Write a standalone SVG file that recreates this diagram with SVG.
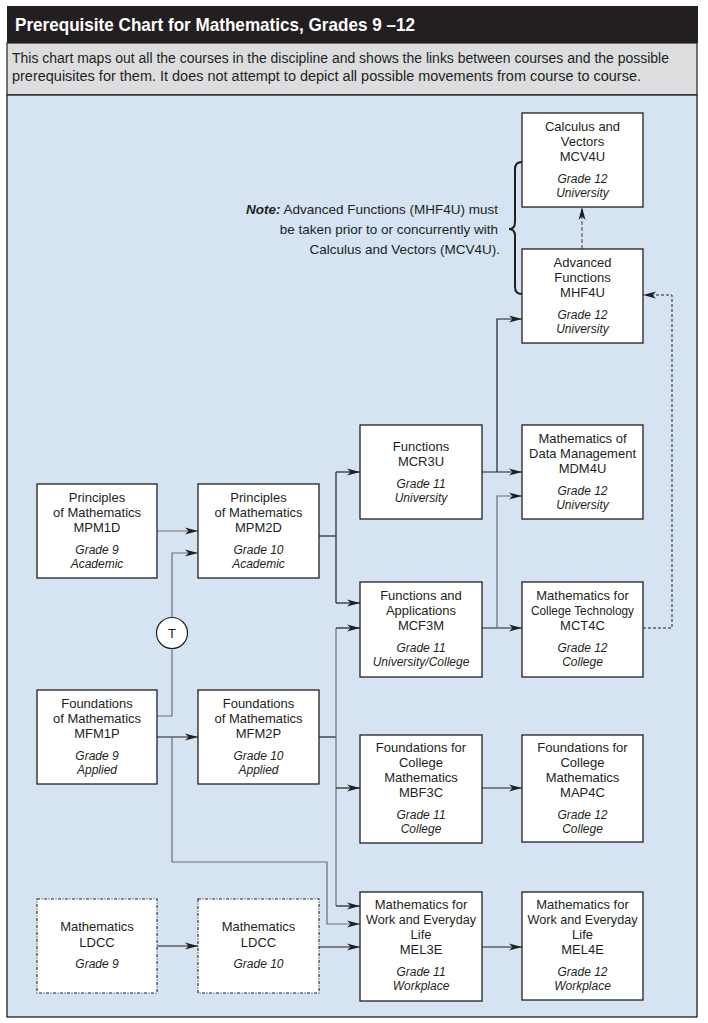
<svg xmlns="http://www.w3.org/2000/svg" width="708" height="1023" viewBox="0 0 708 1023">
<style>
text{font-family:"Liberation Sans",Arial,sans-serif;fill:#231F20}
.b{fill:#fff;stroke:#231F20;stroke-width:1.3}
.d{fill:#fff;stroke:#231F20;stroke-width:1.1;stroke-dasharray:3 1.5 1 1.5}
.n text{font-size:13px;text-anchor:middle}
.n text.i{font-size:12px;font-style:italic}
.c path{fill:none;stroke:#231F20;stroke-width:1.2}
.c path.g{stroke:#6D6E71}
.c path.ds{stroke-dasharray:3 2;stroke-width:1}
.c path.dg{stroke:#6D6E71;stroke-dasharray:4 2;stroke-width:1.4}
</style>
<defs>
<marker id="ah" viewBox="0 0 13 8" refX="13" refY="4" markerWidth="13" markerHeight="8" orient="auto" markerUnits="userSpaceOnUse"><path d="M0,0.5 L13,4 L0,7.5 L3.5,4 z" fill="#231F20"/></marker>
</defs>
<rect width="708" height="1023" fill="#fff"/>
<g id="header">
<rect x="7" y="6" width="691" height="37" fill="#231F20"/>
<rect x="7" y="43" width="690" height="52" fill="#DCDDDE" stroke="#231F20" stroke-width="1.2"/>
<rect x="7" y="95" width="690" height="922" fill="#D5E3F3" stroke="#231F20" stroke-width="1.3"/>
<text x="15" y="31" font-size="18.5" font-weight="bold" style="fill:#fff" textLength="400" lengthAdjust="spacingAndGlyphs">Prerequisite Chart for Mathematics, Grades 9 –12</text>
<text x="12" y="63" font-size="14" textLength="657" lengthAdjust="spacingAndGlyphs">This chart maps out all the courses in the discipline and shows the links between courses and the possible</text>
<text x="12" y="81" font-size="14" textLength="629" lengthAdjust="spacingAndGlyphs">prerequisites for them. It does not attempt to depict all possible movements from course to course.</text>
</g>
<g id="note">
<text x="498" y="214" font-size="13.5" text-anchor="end"><tspan font-weight="bold" font-style="italic">Note:</tspan> Advanced Functions (MHF4U) must</text>
<text x="498" y="234" font-size="13.5" text-anchor="end">be taken prior to or concurrently with</text>
<text x="500" y="254" font-size="13.5" text-anchor="end">Calculus and Vectors (MCV4U).</text>
<path d="M522,162 Q515,162 515,169 L515,222 Q515,229 509,229 Q515,229 515,236 L515,287 Q515,294 522,294" fill="none" stroke="#231F20" stroke-width="2"/>
</g>
<g class="c" id="connectors">
<path class="g" d="M157,531 H198" marker-end="url(#ah)"/>
<path class="g" d="M157,716 H172 V649"/>
<path class="g" d="M172,618 V553 H198" marker-end="url(#ah)"/>
<path d="M157,737 H198" marker-end="url(#ah)"/>
<path class="g" d="M172,737 V862 H327 V924 H360" marker-end="url(#ah)"/>
<path d="M319,536 H336"/>
<path d="M336,472 V603"/>
<path d="M336,472 H360" marker-end="url(#ah)"/>
<path d="M336,603 H360" marker-end="url(#ah)"/>
<path d="M319,737 H336"/>
<path class="g" d="M336,628 V906"/>
<path d="M336,628 H360" marker-end="url(#ah)"/>
<path d="M336,788 H360" marker-end="url(#ah)"/>
<path d="M336,906 H360" marker-end="url(#ah)"/>
<path d="M482,472 H522" marker-end="url(#ah)"/>
<path d="M497,472 V319 H522" marker-end="url(#ah)"/>
<path d="M482,628 H522" marker-end="url(#ah)"/>
<path class="g" d="M497,628 V496 H522" marker-end="url(#ah)"/>
<path class="ds" d="M643,628 H672 V295 H643" marker-end="url(#ah)"/>
<path class="dg" d="M582,249 V207" marker-end="url(#ah)"/>
<path d="M482,788 H522" marker-end="url(#ah)"/>
<path d="M482,947 H522" marker-end="url(#ah)"/>
<path d="M157,946 H198" marker-end="url(#ah)"/>
<path d="M319,947 H360" marker-end="url(#ah)"/>
</g>
<g id="T" class="n">
<circle cx="172" cy="633" r="15.5" fill="#fff" stroke="#231F20" stroke-width="1.2"/>
<text x="172" y="638" font-size="13">T</text>
</g>
<g id="mcv4u" class="n"><rect class="b" x="522" y="113" width="121" height="94"/>
<text x="582.5" y="131">Calculus and</text><text x="582.5" y="146">Vectors</text><text x="582.5" y="161">MCV4U</text>
<text class="i" x="582.5" y="183">Grade 12</text><text class="i" x="582.5" y="196.5">University</text></g>
<g id="mhf4u" class="n"><rect class="b" x="522" y="249" width="121" height="94"/>
<text x="582.5" y="267">Advanced</text><text x="582.5" y="282">Functions</text><text x="582.5" y="297">MHF4U</text>
<text class="i" x="582.5" y="319">Grade 12</text><text class="i" x="582.5" y="332.5">University</text></g>
<g id="mdm4u" class="n"><rect class="b" x="522" y="425" width="121" height="94"/>
<text x="582.5" y="443">Mathematics of</text><text x="582.5" y="458" textLength="107" lengthAdjust="spacingAndGlyphs">Data Management</text><text x="582.5" y="473">MDM4U</text>
<text class="i" x="582.5" y="495">Grade 12</text><text class="i" x="582.5" y="508.5">University</text></g>
<g id="mct4c" class="n"><rect class="b" x="522" y="582" width="121" height="95"/>
<text x="582.5" y="600">Mathematics for</text><text x="582.5" y="615" textLength="103" lengthAdjust="spacingAndGlyphs">College Technology</text><text x="582.5" y="630">MCT4C</text>
<text class="i" x="582.5" y="652">Grade 12</text><text class="i" x="582.5" y="665.5">College</text></g>
<g id="map4c" class="n"><rect class="b" x="522" y="735" width="121" height="107"/>
<text x="582.5" y="752">Foundations for</text><text x="582.5" y="767">College</text><text x="582.5" y="782">Mathematics</text><text x="582.5" y="797">MAP4C</text>
<text class="i" x="582.5" y="819">Grade 12</text><text class="i" x="582.5" y="833">College</text></g>
<g id="mel4e" class="n"><rect class="b" x="522" y="892" width="121" height="108"/>
<text x="582.5" y="909">Mathematics for</text><text x="582.5" y="924" textLength="110" lengthAdjust="spacingAndGlyphs">Work and Everyday</text><text x="582.5" y="939">Life</text><text x="582.5" y="954">MEL4E</text>
<text class="i" x="582.5" y="976">Grade 12</text><text class="i" x="582.5" y="990">Workplace</text></g>
<g id="mcr3u" class="n"><rect class="b" x="360" y="425" width="122" height="94"/>
<text x="421" y="451">Functions</text><text x="421" y="466">MCR3U</text>
<text class="i" x="421" y="488">Grade 11</text><text class="i" x="421" y="502">University</text></g>
<g id="mcf3m" class="n"><rect class="b" x="360" y="582" width="122" height="95"/>
<text x="421" y="600">Functions and</text><text x="421" y="615">Applications</text><text x="421" y="630">MCF3M</text>
<text class="i" x="421" y="652">Grade 11</text><text class="i" x="421" y="665.5">University/College</text></g>
<g id="mbf3c" class="n"><rect class="b" x="360" y="735" width="122" height="108"/>
<text x="421" y="752">Foundations for</text><text x="421" y="767">College</text><text x="421" y="782">Mathematics</text><text x="421" y="797">MBF3C</text>
<text class="i" x="421" y="819">Grade 11</text><text class="i" x="421" y="833">College</text></g>
<g id="mel3e" class="n"><rect class="b" x="360" y="892" width="122" height="109"/>
<text x="421" y="909">Mathematics for</text><text x="421" y="924" textLength="110" lengthAdjust="spacingAndGlyphs">Work and Everyday</text><text x="421" y="939">Life</text><text x="421" y="954">MEL3E</text>
<text class="i" x="421" y="976">Grade 11</text><text class="i" x="421" y="990">Workplace</text></g>
<g id="mpm2d" class="n"><rect class="b" x="198" y="484" width="121" height="94"/>
<text x="258.5" y="502">Principles</text><text x="258.5" y="517">of Mathematics</text><text x="258.5" y="532">MPM2D</text>
<text class="i" x="258.5" y="554">Grade 10</text><text class="i" x="258.5" y="567.5">Academic</text></g>
<g id="mfm2p" class="n"><rect class="b" x="198" y="690" width="121" height="94"/>
<text x="258.5" y="708">Foundations</text><text x="258.5" y="723">of Mathematics</text><text x="258.5" y="738">MFM2P</text>
<text class="i" x="258.5" y="760">Grade 10</text><text class="i" x="258.5" y="773.5">Applied</text></g>
<g id="mpm1d" class="n"><rect class="b" x="37" y="484" width="120" height="94"/>
<text x="97" y="502">Principles</text><text x="97" y="517">of Mathematics</text><text x="97" y="532">MPM1D</text>
<text class="i" x="97" y="554">Grade 9</text><text class="i" x="97" y="567.5">Academic</text></g>
<g id="mfm1p" class="n"><rect class="b" x="37" y="690" width="120" height="94"/>
<text x="97" y="708">Foundations</text><text x="97" y="723">of Mathematics</text><text x="97" y="738">MFM1P</text>
<text class="i" x="97" y="760">Grade 9</text><text class="i" x="97" y="773.5">Applied</text></g>
<g id="ldcc9" class="n"><rect class="d" x="37" y="899" width="120" height="94"/>
<text x="97" y="931">Mathematics</text><text x="97" y="946.5">LDCC</text><text class="i" x="97" y="968">Grade 9</text></g>
<g id="ldcc10" class="n"><rect class="d" x="198" y="899" width="121" height="94"/>
<text x="258.5" y="931">Mathematics</text><text x="258.5" y="946.5">LDCC</text><text class="i" x="258.5" y="968">Grade 10</text></g>
</svg>
